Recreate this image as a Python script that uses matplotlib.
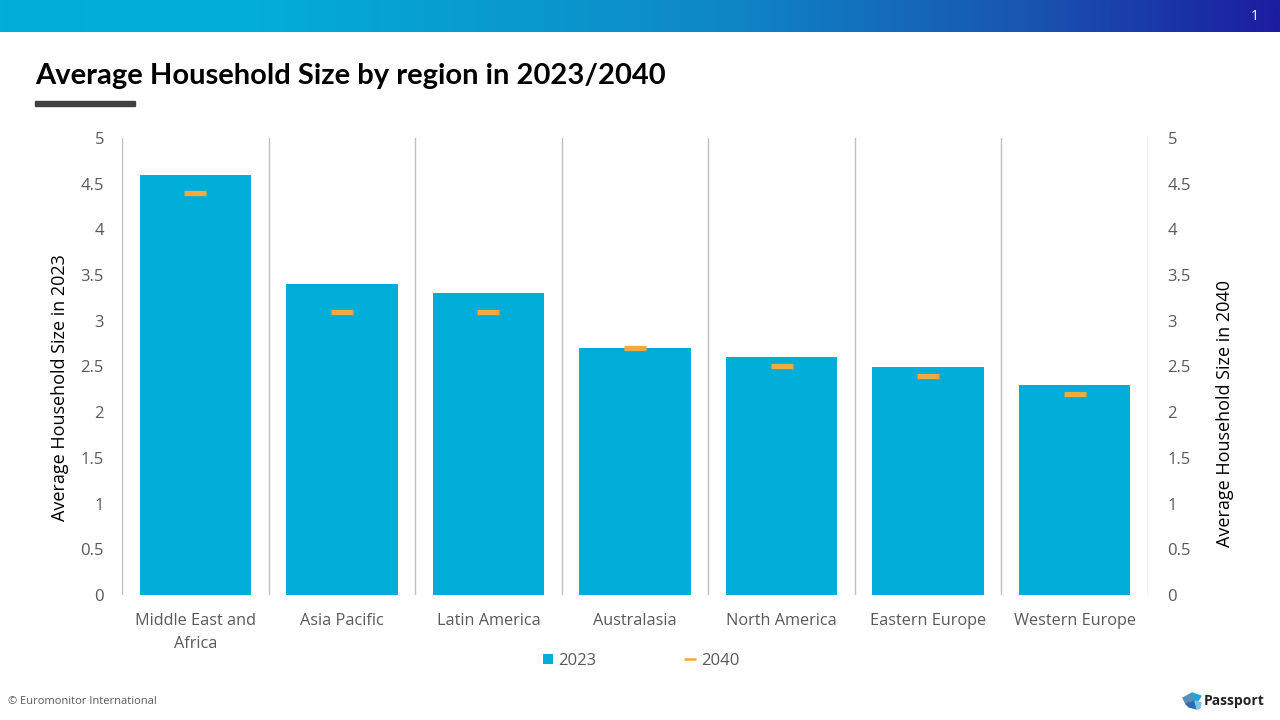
import numpy as np
import matplotlib
matplotlib.use("Agg")
import matplotlib.pyplot as plt
from matplotlib.colors import LinearSegmentedColormap
from matplotlib.patches import Rectangle, Polygon, Patch
from matplotlib.lines import Line2D

regions = ["Middle East and\nAfrica", "Asia Pacific", "Latin America", "Australasia",
           "North America", "Eastern Europe", "Western Europe"]
size_2023 = [4.6, 3.4, 3.3, 2.7, 2.6, 2.5, 2.3]
size_2040 = [4.4, 3.1, 3.1, 2.7, 2.5, 2.4, 2.2]
y_ticks = [0, 0.5, 1, 1.5, 2, 2.5, 3, 3.5, 4, 4.5, 5]
y_tick_labels = ["0", "0.5", "1", "1.5", "2", "2.5", "3", "3.5", "4", "4.5", "5"]

BAR = "#00ADD8"
ORANGE = "#F4A93C"
GRID = "#BFBFBF"
TICK = "#595959"
FONT = ["Open Sans", "DejaVu Sans"]

fig = plt.figure(figsize=(12.8, 7.2), dpi=100)

# header gradient
hdr = fig.add_axes([0, 1 - 32 / 720, 1, 32 / 720])
cmap = LinearSegmentedColormap.from_list("hdr", [(0, "#00B0DA"), (0.2, "#03ADD9"), (0.55, "#0E8AC8"), (0.8, "#1956B2"), (1.0, "#1C1DA0")])
hdr.imshow(np.linspace(0, 1, 512)[None, :], aspect="auto", cmap=cmap, extent=[0, 1, 0, 1])
hdr.set_axis_off()
fig.text(1255 / 1280, 1 - 17 / 720, "1", color="white", fontsize=10, ha="center", va="center", family=FONT)

# title
fig.text(35 / 1280, 1 - 76 / 720, "Average Household Size by region in 2023/2040", fontsize=21,
         fontweight="bold", ha="left", va="center", family=["Lato", "DejaVu Sans"], color="black")
fig.patches.append(Rectangle((35 / 1280, 1 - 106 / 720), 100 / 1280, 5 / 720, transform=fig.transFigure,
                             color="#404040", zorder=5))

# main axes
ax = fig.add_axes([122 / 1280, 1 - 595 / 720, (1148 - 122) / 1280, (595 - 138) / 720])
x = np.arange(len(regions))
ax.bar(x, size_2023, width=0.76, color=BAR, zorder=2, label="2023")
ax.set_xlim(-0.5, len(regions) - 0.5)
ax.set_ylim(0, 5)
ax.set_yticks(y_ticks)
ax.set_yticklabels(y_tick_labels)
ax.set_xticks(x)
ax.set_xticklabels(regions, linespacing=1.6)
ax.set_xticks(np.arange(-0.5, len(regions), 1.0), minor=True)
ax.grid(which="minor", axis="x", color=GRID, linewidth=1, zorder=0)
ax.tick_params(which="both", length=0)
ax.tick_params(axis="y", pad=13, labelsize=12, labelcolor=TICK)
ax.tick_params(axis="x", pad=13, labelsize=11.7, labelcolor=TICK)
for s in ax.spines.values():
    s.set_visible(False)
for lab in ax.get_xticklabels() + ax.get_yticklabels():
    lab.set_family(FONT)
ax.set_ylabel("Average Household Size in 2023", fontsize=13, family=FONT, color="black")
ax.yaxis.set_label_coords(-0.052, 0.455)

ax2 = ax.twinx()
ax2.set_ylim(0, 5)
ax2.plot(x, size_2040, linestyle="none", marker="_", markersize=16.5, markeredgewidth=3.8,
         color=ORANGE, zorder=3, label="2040")
ax2.set_yticks(y_ticks)
ax2.set_yticklabels(y_tick_labels)
ax2.tick_params(length=0, pad=14, labelsize=12, labelcolor=TICK)
for s in ax2.spines.values():
    s.set_visible(False)
for lab in ax2.get_yticklabels():
    lab.set_family(FONT)
ax2.set_ylabel("Average Household Size in 2040", fontsize=13, family=FONT, color="black", rotation=90)
ax2.yaxis.set_label_coords(1.066, 0.398)

# legend
handles = [Patch(facecolor=BAR, edgecolor="none"),
           Line2D([], [], linestyle="none", marker="_", markersize=8, markeredgewidth=1.8, color=ORANGE)]
leg = fig.legend(handles, ["2023", "2040"], loc="center", bbox_to_anchor=(641 / 1280, 1 - 661 / 720), ncol=2,
                 frameon=False, handlelength=0.6, handleheight=0.6, columnspacing=5.3,
                 handletextpad=0.35, prop={"family": FONT, "size": 12})
for t in leg.get_texts():
    t.set_color(TICK)

# footer
fig.text(8 / 1280, 1 - 702 / 720, "\u00a9 Euromonitor International", fontsize=8, color="#595959",
         ha="left", va="center", family=FONT)
# passport logo (approximation)
lg = [
    [(1183, 698), (1192, 693), (1195, 701), (1186, 704)],
    [(1192, 693), (1201, 696), (1197, 702), (1195, 701)],
    [(1186, 704), (1195, 701), (1197, 709), (1189, 707)],
    [(1195, 701), (1201, 703), (1200, 708), (1197, 709)],
]
cols = ["#5B8DB8", "#1FA3DA", "#2B6FB0", "#7BC4E8"]
for poly, c in zip(lg, cols):
    fig.patches.append(Polygon([(px / 1280, 1 - py / 720) for px, py in poly], closed=True,
                               transform=fig.transFigure, color=c))
fig.text(1204 / 1280, 1 - 701 / 720, "Passport", fontsize=10, fontweight="bold", color="#222222",
         ha="left", va="center", family=FONT)

fig.savefig("out.png", dpi=100)
